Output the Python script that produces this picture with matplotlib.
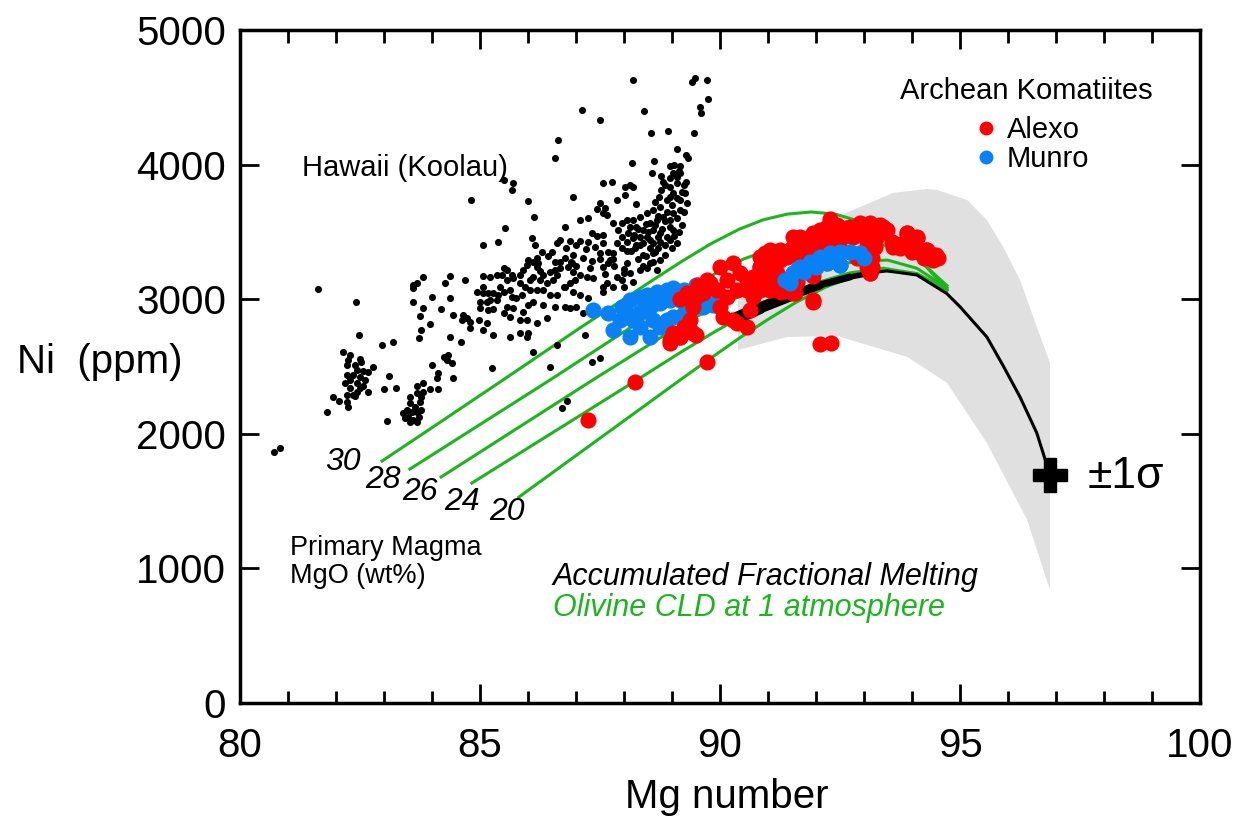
import matplotlib
matplotlib.use("Agg")
import matplotlib.pyplot as plt
from matplotlib.lines import Line2D

plt.rcParams['font.family'] = ['Liberation Sans', 'DejaVu Sans']

# Hawaii (Koolau) whole-rock data
haw_mg = [81.62, 82.42, 82.48, 82.96, 83.19, 81.81, 80.71, 80.83,
          82.15, 82.29, 82.26, 82.50, 82.53, 82.22, 82.40, 82.43, 82.57, 82.67, 82.78, 82.22,
          82.36, 82.50, 82.60, 82.29, 82.19, 82.43, 82.57, 82.67, 82.29, 82.43, 82.22, 82.36,
          81.94, 82.07, 82.22, 82.26, 82.50, 82.40,
          83.40, 83.51, 83.61, 83.72, 83.47, 83.58, 83.68, 83.78, 83.54, 83.65, 83.75, 83.54,
          83.68, 83.82, 83.78, 83.44, 83.54, 83.68, 83.06, 83.68, 83.82,
          84.24, 84.34, 84.31, 84.41, 83.99, 84.13, 84.10, 84.13, 83.96, 84.44, 82.99, 83.24, 83.11,
          83.61, 83.68, 83.81, 83.61, 83.61, 83.82, 83.99, 84.38, 84.27, 84.38, 84.19, 84.43,
          83.75, 83.96, 83.78, 83.72, 84.38, 84.60, 84.69, 85.07, 85.21, 85.35, 85.07, 84.93,
          85.07, 85.17, 85.28, 85.38, 85.21, 85.35, 85.00, 85.14, 85.00, 85.17, 85.28, 84.65,
          84.72, 84.62, 84.79, 84.97, 85.14, 84.79, 85.07, 85.28, 85.24,
          85.49, 85.69, 85.66, 86.01, 84.81, 86.13, 85.52, 85.06, 85.38, 86.94, 87.57, 87.74,
          88.02, 88.13, 88.19, 88.02, 87.85, 88.26, 87.50, 87.43, 87.60, 87.57, 87.64, 87.08,
          87.26, 86.77, 87.33, 87.43, 87.57, 87.26, 87.08, 86.88, 86.67, 86.60, 86.08, 86.15,
          87.78, 87.88, 87.95, 88.06, 87.85, 87.95, 88.06, 87.57, 87.67, 87.50, 87.78, 87.78,
          87.71, 87.67, 88.06, 87.99, 87.57, 87.33, 87.15, 86.94, 86.91, 86.77, 86.67, 86.56,
          86.42, 86.18, 86.11, 86.01, 85.97, 85.90, 85.83, 86.18, 86.25, 86.32, 86.46, 86.56,
          86.67, 86.84, 86.94, 87.08, 87.22, 87.36, 86.98, 86.88, 86.74, 86.53, 86.39, 86.25,
          86.11, 86.04, 85.94, 85.83, 85.69, 85.56, 85.45, 85.42, 85.49, 85.63, 85.66, 85.76,
          85.87, 86.04, 86.18, 86.32, 86.46, 86.60, 86.77, 86.94, 87.08, 87.26, 86.77, 86.88,
          87.01, 86.56, 86.32, 86.11, 86.01, 85.90, 85.69, 85.56, 85.49, 85.56, 85.66, 85.49,
          85.63, 85.83, 85.97, 86.18, 86.39, 85.83, 85.97, 86.01, 85.63, 86.60, 86.11, 86.46,
          87.15, 87.36, 87.57, 87.57, 87.64, 87.85, 87.99, 88.13, 87.95, 87.78, 87.99, 88.19,
          88.33, 88.47, 88.54, 88.68, 88.75, 88.65, 88.54, 88.40, 88.23, 88.33, 88.61, 88.75,
          88.47, 88.61, 88.75, 88.89, 89.03, 88.54, 88.68, 88.82, 88.96, 89.03, 89.17, 89.31,
          89.17, 89.03, 88.96, 89.10, 89.24, 89.27, 88.89, 88.75, 88.61, 88.47, 88.33, 88.19,
          88.13, 88.26, 88.40, 88.33, 88.19, 88.09, 88.06, 88.72, 88.78, 88.82, 87.95,
          87.33, 87.50, 86.81, 86.70, 87.19,
          88.19, 89.41, 89.48, 89.72, 89.76, 89.58, 89.60, 88.42, 87.50, 87.12, 88.56, 88.91,
          89.46, 89.10, 89.29, 89.34, 88.16, 88.62, 88.96, 89.17, 88.58, 88.78, 89.03, 89.17,
          88.96, 89.10, 86.63, 86.56,
          88.30, 88.45, 88.60, 88.70, 88.85, 88.95, 89.05, 89.15, 89.20, 89.10, 88.95, 88.80,
          88.70, 88.55, 88.40, 88.25, 88.15, 88.50, 88.65, 88.85, 89.00, 89.10, 89.20, 89.25,
          88.90, 88.70, 88.45, 88.30, 88.20, 88.85, 89.00, 89.10, 88.60, 88.40, 88.95, 89.30,
          89.15, 89.05, 88.85, 88.65,
          86.50, 86.80, 87.00, 87.20, 87.40, 86.30, 86.90, 87.30, 87.50, 86.60, 86.20, 87.00,
          87.60, 87.80]
haw_ni = [3076, 2979, 2734, 2660, 2682, 2162, 1865, 1894,
          2610, 2585, 2548, 2553, 2536, 2511, 2511, 2474, 2469, 2461, 2498, 2437,
          2437, 2420, 2400, 2400, 2375, 2375, 2355, 2313, 2338, 2313, 2288, 2288,
          2271, 2246, 2239, 2202, 2338, 2279,
          2152, 2127, 2102, 2127, 2177, 2164, 2164, 2177, 2227, 2202, 2239, 2276,
          2301, 2313, 2276, 2115, 2090, 2090, 2095, 2355, 2375,
          2573, 2585, 2548, 2524, 2511, 2449, 2412, 2330, 2330, 2412, 2330, 2343, 2429,
          3105, 3118, 3167, 3081, 2981, 2932, 3019, 3172, 3118, 3007, 2925, 2883,
          2875, 2816, 2771, 2709, 2716, 2680, 3143, 3172, 3167, 3180, 3093, 3056,
          3044, 3044, 3044, 3031, 2994, 2994, 2981, 2981, 2932, 2920, 2925, 2883,
          2858, 2846, 2833, 2846, 2821, 2784, 2771, 2734, 2487,
          3886, 3861, 3812, 3732, 3737, 3613, 3527, 3403, 3428, 3757, 3861, 3874,
          3836, 3849, 3836, 3775, 3737, 3708, 3713, 3668, 3675, 3638, 3626, 3589,
          3601, 3539, 3490, 3470, 3477, 3428, 3433, 3435, 3440, 3415, 3453, 3403,
          3564, 3514, 3465, 3428, 3415, 3378, 3361, 3415, 3353, 3346, 3341, 3296,
          3292, 3267, 3267, 3222, 3242, 3284, 3304, 3329, 3272, 3304, 3279, 3279,
          3321, 3304, 3279, 3292, 3254, 3217, 3180, 3242, 3212, 3180, 3205, 3217,
          3230, 3237, 3205, 3180, 3168, 3155, 3143, 3118, 3093, 3143, 3118, 3143,
          3168, 3143, 3093, 3118, 3155, 3143, 3180, 3093, 3056, 3069, 3019, 3007,
          3031, 3069, 3069, 3069, 3031, 3031, 3093, 3056, 3031, 3007, 2945, 2932,
          2945, 2945, 2957, 2982, 2957, 2908, 2932, 2945, 3230, 3217, 3180, 2895,
          2870, 2846, 2846, 2821, 2858, 2747, 2722, 2747, 2722, 2660, 2610, 2499,
          2895, 2908, 3056, 3093, 3118, 3168, 3192, 3192, 3143, 3093, 3093, 3130,
          3217, 3230, 3267, 3217, 3292, 3353, 3378, 3329, 3378, 3403, 3415, 3428,
          3465, 3514, 3490, 3465, 3514, 3564, 3589, 3613, 3589, 3638, 3663, 3713,
          3737, 3787, 3836, 3861, 3849, 3787, 3737, 3688, 3663, 3638, 3613, 3589,
          3539, 3539, 3514, 3465, 3453, 3490, 3589, 3762, 3812, 3874, 3564,
          2536, 2561, 2246, 2189, 2734,
          4628, 4616, 4641, 4628, 4485, 4430, 4386, 4398, 4331, 4405, 4232, 4249,
          4232, 4113, 4071, 4046, 4014, 4029, 3989, 3989, 3940, 3915, 3935, 3935,
          3898, 3910, 4183, 4046,
          3300, 3320, 3340, 3380, 3400, 3440, 3470, 3500, 3550, 3600, 3540, 3520,
          3460, 3440, 3420, 3400, 3360, 3500, 3550, 3580, 3700, 3750, 3800, 3650,
          3650, 3620, 3560, 3520, 3480, 3330, 3380, 3420, 3280, 3250, 3760, 3870,
          3950, 4000, 3850, 3720,
          3350, 3380, 3400, 3370, 3390, 3350, 3280, 3230, 3300, 3180, 3270, 3250,
          3190, 3250]

# Alexo komatiites
alexo_mg = [92.29, 91.94, 92.08, 92.31,
            91.67, 91.88, 92.12, 92.43, 92.64, 92.85, 93.13, 93.40, 93.44, 93.19, 92.92, 92.64,
            92.50, 92.29, 92.05, 91.81, 91.60, 91.46, 91.25, 91.04, 90.94, 90.83, 91.04, 90.83,
            90.97, 91.18, 91.11, 90.90, 91.04, 91.35, 91.56, 91.60, 91.94, 93.06, 93.13, 93.23,
            93.16, 92.85, 93.06, 93.26, 93.61, 93.58, 93.89, 94.10, 93.82, 94.03, 94.30, 94.44,
            94.55, 94.24, 93.99, 93.75,
            90.00, 90.14, 90.28, 90.42, 90.56, 90.35, 90.56, 90.69, 90.83, 90.97, 91.11, 91.25,
            91.11, 90.97, 90.83, 90.69, 90.63, 90.56, 90.35, 90.28, 90.07, 90.00, 90.14, 89.93,
            89.79, 89.65, 89.51, 89.44, 89.38, 89.24, 89.44, 89.17, 88.96, 89.03, 89.51, 89.34,
            89.72, 89.55, 91.04, 91.28, 91.53, 91.94, 89.72, 88.23, 87.26,
            89.17, 89.31, 89.38, 89.51, 89.17, 88.96,
            91.53, 91.67, 91.81, 91.94, 92.08, 92.22, 92.43, 92.71, 92.92, 93.13, 93.33, 93.47,
            92.36, 92.57, 92.78, 91.53, 91.39, 91.67, 91.88, 92.22,
            93.61, 93.89, 94.10, 94.31, 94.51, 94.44, 94.17, 93.75, 93.19, 93.06, 93.13, 93.16]
alexo_ni = [3593, 2994, 2667, 2677,
            3465, 3427, 3465, 3502, 3526, 3539, 3551, 3539, 3502, 3489, 3489, 3477,
            3440, 3415, 3390, 3365, 3390, 3365, 3365, 3365, 3341, 3316, 3266, 3242,
            3192, 3192, 3118, 3081, 3068, 3068, 3043, 3130, 3172, 3242, 3192, 3390,
            3304, 3304, 3427, 3452, 3390, 3427, 3489, 3465, 3415, 3390, 3365, 3328,
            3304, 3304, 3353, 3378,
            3242, 3143, 3267, 3192, 3143, 3069, 3069, 3168, 3242, 3316, 3353, 3292,
            3217, 3143, 3069, 3019, 2920, 2796, 2821, 2846, 2870, 2945, 3019, 3069,
            3118, 3044, 3019, 2945, 2846, 2796, 2747, 2722, 2697, 2747, 3044, 3031,
            3143, 3106, 3069, 3056, 3044, 2982, 2536, 2387, 2103,
            3000, 3043, 2771, 2734, 2722, 2672,
            3465, 3415, 3440, 3490, 3514, 3539, 3552, 3539, 3564, 3564, 3552, 3514,
            3465, 3490, 3465, 3391, 3316, 3316, 3366, 3391,
            3415, 3490, 3453, 3366, 3329, 3292, 3353, 3391, 3391, 3292, 3192, 3242]

# Munro komatiites
munro_mg = [87.36, 87.67, 87.78, 88.13, 87.95, 88.13, 88.33, 88.47, 88.68, 88.89, 89.03, 89.24,
            89.51, 87.92, 88.06, 88.19, 88.33, 88.54, 88.75, 88.96, 89.17, 89.31, 89.44, 89.58,
            89.79, 90.00, 88.61, 88.54, 88.75, 88.89, 89.03, 89.24, 89.38, 89.65, 89.86, 88.33,
            91.35, 91.53, 91.67, 91.88, 92.08, 92.29, 92.50, 92.71, 92.92, 92.99, 92.50, 92.22,
            92.01, 91.74, 91.46, 91.46, 91.60]
munro_ni = [2920, 2895, 2771, 2722, 2945, 2994, 3019, 3031, 3056, 3069, 3081, 3069,
            3106, 2846, 2895, 2846, 2908, 2945, 2970, 2994, 2994, 3019, 2970, 2994,
            3019, 3031, 2846, 2722, 2796, 2846, 2870, 2895, 2920, 2945, 2957, 2796,
            3143, 3192, 3242, 3279, 3316, 3341, 3353, 3353, 3341, 3304, 3254, 3266,
            3242, 3204, 3118, 3143, 3217]

# olivine liquid lines of descent, labelled by primary magma MgO (wt%)
cld_labels = ['30', '28', '26', '24', '20']
cld_mg = [
    [82.96, 83.96, 85.48, 87.08, 88.54, 89.20, 89.80, 90.40, 90.90, 91.40, 91.90, 92.40,
     92.90, 93.40, 93.90, 94.30, 94.73],
    [83.54, 86.46, 88.54, 89.30, 89.90, 90.50, 91.10, 91.70, 92.30, 92.90, 93.44, 94.06, 94.73],
    [84.19, 87.35, 88.75, 89.50, 90.20, 90.83, 91.50, 92.20, 92.90, 93.50, 94.10, 94.73],
    [84.83, 88.27, 89.20, 89.90, 90.60, 91.30, 92.00, 92.70, 93.40, 94.10, 94.73],
    [85.81, 89.17, 89.80, 90.40, 91.00, 91.60, 92.20, 92.80, 93.40, 94.10, 94.73],
]
cld_ni = [
    [1798, 2036, 2400, 2786, 3128, 3280, 3410, 3520, 3590, 3632, 3648, 3632,
     3580, 3490, 3370, 3240, 3068],
    [1738, 2400, 2883, 3060, 3190, 3300, 3375, 3420, 3440, 3435, 3400, 3320, 3100],
    [1679, 2400, 2712, 2870, 2990, 3085, 3170, 3240, 3285, 3290, 3230, 3083],
    [1634, 2400, 2610, 2760, 2900, 3020, 3120, 3195, 3230, 3190, 3068],
    [1530, 2400, 2560, 2710, 2850, 2980, 3090, 3170, 3215, 3190, 3068],
]

# accumulated fractional melting: thick part and its continuation
afm_thick_mg = [90.35, 90.83, 91.46, 92.08, 92.71, 93.27]
afm_thick_ni = [2860, 2935, 3024, 3106, 3165, 3202]
afm_mg = [93.27, 93.48, 94.10, 94.72, 95.00, 95.56, 95.90, 96.25, 96.60, 96.875]
afm_ni = [3202, 3210, 3180, 3043, 2944, 2719, 2505, 2274, 2006, 1694]

# +/- 1 sigma envelope
band_top_mg = [90.375, 91.25, 91.94, 92.92, 93.60, 94.31, 94.52, 95.15, 95.56, 95.90, 96.25, 96.60, 96.875]
band_top_ni = [2994, 3329, 3537, 3685, 3789, 3819, 3812, 3737, 3589, 3388, 3143, 2794, 2526]
band_bot_mg = [96.875, 96.40, 95.56, 94.73, 93.90, 92.44, 91.40, 90.375]
band_bot_ni = [840, 1360, 1932, 2378, 2571, 2727, 2719, 2623]

green = '#1db51d'
red = '#ff0000'
blue = '#0a80f5'

fig = plt.figure(figsize=(12.52, 8.21), dpi=100)
ax = fig.add_axes([240 / 1252, 1 - 703 / 821, 960 / 1252, 673 / 821])

ax.fill(band_top_mg + band_bot_mg, band_top_ni + band_bot_ni, color='#e0e0e0', lw=0, zorder=1)

for xs, ys in zip(cld_mg, cld_ni):
    ax.plot(xs, ys, color=green, lw=2.2, zorder=2, solid_joinstyle='round')

ax.scatter(haw_mg, haw_ni, s=26, color='black', lw=0, zorder=3)

widths = [9, 8, 6.5, 5, 4]
for i in range(len(afm_thick_mg) - 1):
    ax.plot(afm_thick_mg[i:i + 2], afm_thick_ni[i:i + 2], color='black',
            lw=widths[i], solid_capstyle='round', zorder=4)
ax.plot(afm_mg, afm_ni, color='black', lw=2.2, zorder=4)

ax.scatter(munro_mg, munro_ni, s=135, color=blue, lw=0, zorder=5)
ax.scatter(alexo_mg, alexo_ni, s=135, color=red, lw=0, zorder=5)
ax.scatter(munro_mg[36:], munro_ni[36:], s=135, color=blue, lw=0, zorder=6)

ax.plot([afm_mg[-1]], [afm_ni[-1]], marker='P', ms=24, color='black', zorder=7)
ax.text(97.65, 1680, '±1σ', fontsize=32, va='center', ha='left')

# CLD labels
lab_pos = [(82.15, 1790), (82.98, 1657), (83.75, 1568), (84.62, 1493), (85.56, 1419)]
for lab, (lx, ly) in zip(cld_labels, lab_pos):
    ax.text(lx, ly, lab, fontsize=23, style='italic', ha='center', va='center')

ax.text(81.29, 3975, 'Hawaii (Koolau)', fontsize=21, va='center', ha='left')
ax.text(81.04, 1048, 'Primary Magma\nMgO (wt%)', fontsize=19.5, va='center', ha='left',
        linespacing=1.1)
ax.text(86.52, 936, 'Accumulated Fractional Melting', fontsize=22, style='italic',
        va='center', ha='left')
ax.text(86.52, 706, 'Olivine CLD at 1 atmosphere', fontsize=22, style='italic',
        va='center', ha='left', color=green)

ax.text(93.75, 4547, 'Archean Komatiites', fontsize=21, va='center', ha='left')
handles = [Line2D([], [], ls='', marker='o', ms=10, color=red, mec='none'),
           Line2D([], [], ls='', marker='o', ms=10, color=blue, mec='none')]
ax.legend(handles, ['Alexo', 'Munro'], loc='upper left', bbox_to_anchor=(0.753, 0.894),
          frameon=False, fontsize=21, handlelength=0.6, handletextpad=0.4,
          labelspacing=0.05, borderpad=0)

ax.set_xlim(80, 100)
ax.set_ylim(0, 5000)
ax.set_xticks([80, 85, 90, 95, 100])
ax.set_xticks(range(80, 101), minor=True)
ax.set_yticks([0, 1000, 2000, 3000, 4000, 5000])
ax.tick_params(which='both', direction='in', top=True, right=True, width=2, labelsize=29)
ax.tick_params(which='major', length=14)
ax.tick_params(axis='x', which='major', pad=17)
ax.tick_params(axis='y', which='major', pad=10)
ax.tick_params(which='minor', length=9)
for sp in ax.spines.values():
    sp.set_linewidth(2.5)

ax.set_xlabel('Mg number', fontsize=29, va='center')
ax.xaxis.set_label_coords(0.507, -0.14)
ax.set_ylabel('Ni  (ppm)', fontsize=29, rotation=0, va='center', ha='center')
ax.yaxis.set_label_coords(-0.146, 0.507)

fig.savefig('out.png', dpi=100)
